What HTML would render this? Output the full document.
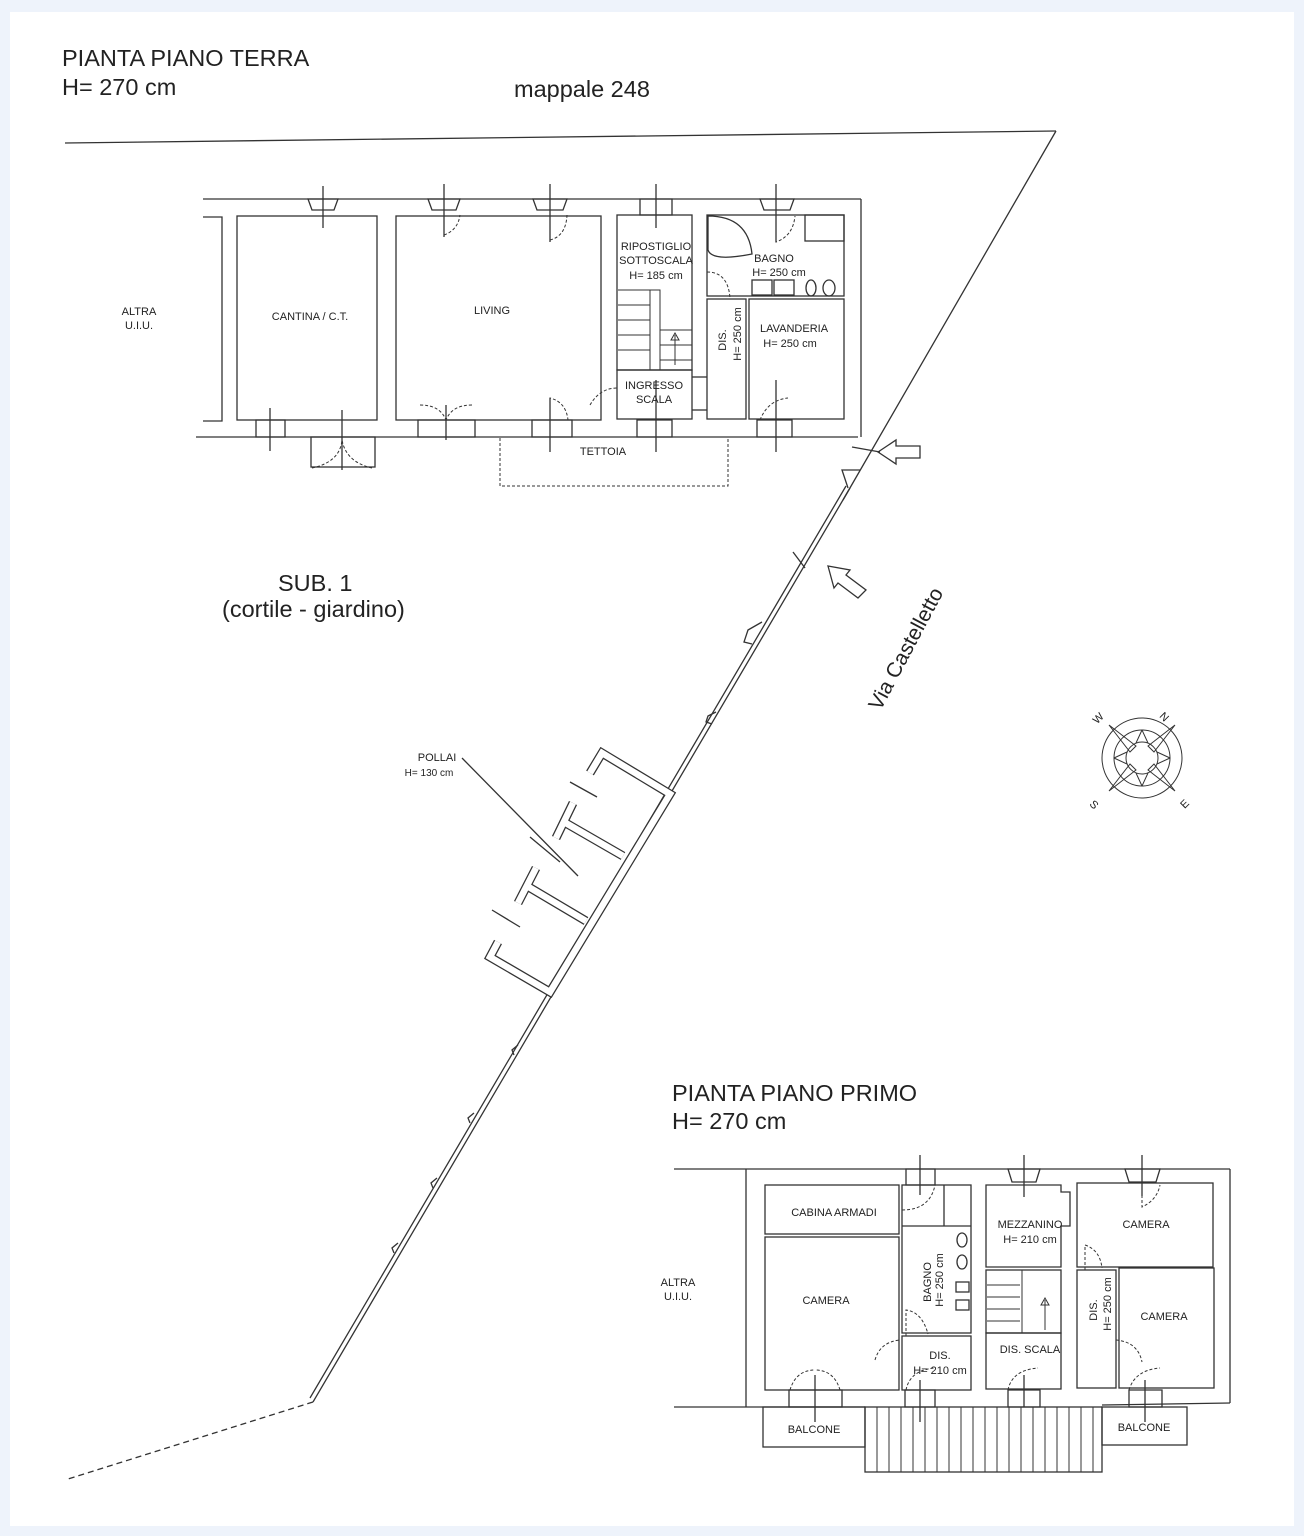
<!DOCTYPE html>
<html><head><meta charset="utf-8"><style>
html,body{margin:0;padding:0;background:#eef3fb}
svg{display:block}
text{font-family:"Liberation Sans",sans-serif;fill:#222}
</style></head><body>
<svg width="1304" height="1536" viewBox="0 0 1304 1536" xmlns="http://www.w3.org/2000/svg">
<rect x="10" y="12" width="1284" height="1514" fill="#fff"/>
<g stroke="#333" stroke-width="1.3" fill="none">
<!-- site boundary -->
<line x1="65" y1="143" x2="1056" y2="131"/>
<line x1="1056" y1="131" x2="843" y2="500"/>
<line x1="850" y1="488" x2="313" y2="1402"/>
<line x1="846" y1="486" x2="310" y2="1398"/>
<line x1="313" y1="1402" x2="65" y2="1480" stroke-dasharray="6,4"/>
<!-- bumps along wall -->
<path d="M762 622 L748 630 L744 642 L752 644"/>
<path d="M716 712 L708 716 L706 722 L712 724"/>
<path d="M518 1045 L512 1050 L514 1055"/>
<path d="M474 1113 L468 1118 L470 1123"/>
<path d="M437 1178 L431 1183 L433 1188"/>
<path d="M398 1243 L392 1248 L394 1253"/>
<path d="M860 470 L842 470 L848 488"/>
<!-- pollai -->
<g stroke-width="9" stroke="#333"><polyline points="590,773 602,753 670,794 550,992 490,957 498,942"/><line x1="573" y1="803" x2="556" y2="838"/><line x1="564" y1="822" x2="623" y2="856"/><line x1="536" y1="868" x2="518" y2="903"/><line x1="527" y1="886" x2="586" y2="921"/></g>
<g stroke-width="6.5" stroke="#fff"><polyline points="590,773 602,753 670,794 550,992 490,957 498,942"/><line x1="573" y1="803" x2="556" y2="838"/><line x1="564" y1="822" x2="623" y2="856"/><line x1="536" y1="868" x2="518" y2="903"/><line x1="527" y1="886" x2="586" y2="921"/></g>
<line x1="570" y1="782" x2="597" y2="797"/>
<line x1="530" y1="837" x2="560" y2="862"/>
<line x1="492" y1="910" x2="520" y2="927"/>
<line x1="462" y1="758" x2="578" y2="876"/>
<!-- arrows -->
<path d="M878 452 L896 440 L896 446 L920 446 L920 458 L896 458 L896 464 Z"/>
<path d="M828 566 L850 570 L846 575 L866 590 L858 598 L838 583 L834 588 Z"/>
<line x1="852" y1="447" x2="880" y2="452"/>
<line x1="793" y1="552" x2="805" y2="568"/>
<!-- GROUND FLOOR -->
<line x1="203" y1="199" x2="861" y2="199"/>
<line x1="861" y1="199" x2="861" y2="437"/>
<line x1="196" y1="437" x2="858" y2="437"/>
<polyline points="203,217 222,217 222,421 203,421"/>
<rect x="237" y="216" width="140" height="204"/>
<rect x="396" y="216" width="205" height="204"/>
<rect x="617" y="215" width="75" height="155"/>
<rect x="617" y="370" width="75" height="49"/>
<rect x="707" y="215" width="137" height="81"/>
<rect x="707" y="299" width="39" height="120"/>
<rect x="749" y="299" width="95" height="120"/>
<line x1="692" y1="377" x2="707" y2="377"/><line x1="692" y1="410" x2="707" y2="410"/>
<rect x="805" y="215" width="39" height="26"/>
<!-- stairs -->
<g stroke-width="1"><path d="M618 290 H650 M618 305 H650 M618 320 H650 M618 335 H650 M618 350 H650 M660 330 H692 M660 345 H692 M660 360 H692"/><rect x="650" y="290" width="10" height="80"/><line x1="675" y1="365" x2="675" y2="335"/><path d="M671 340 L675 333 L679 340 Z"/></g>
<!-- fixtures -->
<path d="M708 216 Q748 216 752 254 Q712 262 708 250 Z"/>
<rect x="752" y="280" width="20" height="15"/><rect x="774" y="280" width="20" height="15"/>
<ellipse cx="811" cy="288" rx="5" ry="8"/><ellipse cx="829" cy="288" rx="6" ry="8"/>
<!-- windows top -->
<g>
<path d="M308 199 H338 L334 210 H312 Z"/><line x1="323" y1="186" x2="323" y2="228"/>
<path d="M428 199 H460 L456 210 H432 Z"/><line x1="444" y1="184" x2="444" y2="237"/>
<path d="M533 199 H567 L563 210 H537 Z"/><line x1="550" y1="184" x2="550" y2="242"/>
<path d="M640 199 H672 V215 H640 Z"/><line x1="656" y1="184" x2="656" y2="228"/>
<path d="M760 199 H794 L790 210 H764 Z"/><line x1="776" y1="184" x2="776" y2="242"/>
</g>
<!-- windows bottom -->
<g>
<path d="M256 420 H285 V437 H256 Z"/><line x1="270" y1="408" x2="270" y2="451"/>
<path d="M418 420 H475 V437 H418 Z"/><line x1="446" y1="405" x2="446" y2="440"/>
<path d="M532 420 H572 V437 H532 Z"/><line x1="550" y1="398" x2="550" y2="452"/>
<path d="M637 420 H672 V437 H637 Z"/><line x1="656" y1="380" x2="656" y2="452"/>
<path d="M757 420 H792 V437 H757 Z"/><line x1="776" y1="380" x2="776" y2="452"/>
<rect x="311" y="437" width="64" height="30"/><line x1="342" y1="410" x2="342" y2="470"/>
</g>
<g stroke-dasharray="3,2" stroke-width="1">
<path d="M420 405 Q440 405 446 420"/><path d="M472 405 Q452 405 446 420"/>
<path d="M550 215 V240 Q566 236 567 215"/><path d="M444 215 V235 Q458 230 460 215"/>
<path d="M550 420 V398 Q566 402 568 420"/>
<path d="M776 215 V242 Q793 236 795 216"/>
<path d="M707 272 Q728 272 730 298"/>
<path d="M590 405 Q600 388 617 388"/>
<path d="M760 420 Q768 400 788 398"/>
<path d="M312 468 Q340 462 342 440"/><path d="M372 468 Q346 462 342 440"/>
<rect x="500" y="437" width="228" height="49"/>
</g>
<!-- FIRST FLOOR -->
<line x1="674" y1="1169" x2="1230" y2="1169"/>
<line x1="1230" y1="1169" x2="1230" y2="1403"/>
<line x1="674" y1="1407" x2="865" y2="1407"/>
<line x1="1102" y1="1405" x2="1230" y2="1403"/>
<line x1="746" y1="1169" x2="746" y2="1407"/>
<rect x="765" y="1185" width="134" height="49"/>
<rect x="765" y="1237" width="134" height="153"/>
<rect x="902" y="1185" width="69" height="148"/>
<line x1="944" y1="1185" x2="944" y2="1226"/><line x1="902" y1="1226" x2="971" y2="1226"/>
<rect x="902" y="1336" width="69" height="54"/>
<path d="M986 1185 H1061 V1192 H1070 V1226 H1061 V1267 H986 Z"/>
<rect x="986" y="1270" width="75" height="63"/>
<rect x="986" y="1333" width="75" height="56"/>
<rect x="1077" y="1183" width="136" height="84"/>
<rect x="1077" y="1270" width="39" height="118"/>
<rect x="1119" y="1268" width="95" height="120"/>
<g stroke-width="1"><path d="M987 1285 H1020 M987 1297 H1020 M987 1309 H1020 M987 1321 H1020"/><line x1="1022" y1="1270" x2="1022" y2="1333"/><line x1="1045" y1="1330" x2="1045" y2="1300"/><path d="M1041 1305 L1045 1298 L1049 1305 Z"/></g>
<rect x="956" y="1282" width="13" height="10"/><rect x="956" y="1300" width="13" height="10"/>
<ellipse cx="962" cy="1240" rx="5" ry="7"/><ellipse cx="962" cy="1262" rx="5" ry="7"/>
<!-- windows ff -->
<path d="M906 1169 H935 V1185 H906 Z"/><line x1="920" y1="1155" x2="920" y2="1195"/>
<path d="M1008 1169 H1040 L1036 1182 H1012 Z"/><line x1="1024" y1="1155" x2="1024" y2="1197"/>
<path d="M1125 1169 H1160 L1156 1182 H1129 Z"/><line x1="1142" y1="1155" x2="1142" y2="1196"/>
<path d="M789 1390 H842 V1407 H789 Z"/><line x1="815" y1="1375" x2="815" y2="1422"/>
<path d="M905 1390 H935 V1407 H905 Z"/><line x1="920" y1="1380" x2="920" y2="1422"/>
<path d="M1008 1390 H1040 V1407 H1008 Z"/><line x1="1024" y1="1375" x2="1024" y2="1407"/>
<path d="M1129 1390 H1162 V1407 H1129 Z"/><line x1="1145" y1="1380" x2="1145" y2="1422"/>
<g stroke-dasharray="3,2" stroke-width="1">
<path d="M902 1210 Q930 1210 935 1185"/><path d="M1142 1185 V1207 Q1157 1200 1160 1185"/>
<path d="M1085 1270 V1245 Q1100 1250 1102 1268"/><path d="M906 1336 V1310 Q922 1312 928 1334"/>
<path d="M875 1360 Q880 1342 900 1340"/><path d="M1116 1340 Q1138 1342 1142 1362"/>
<path d="M790 1390 Q796 1370 815 1370"/><path d="M840 1390 Q834 1370 815 1370"/>
<path d="M906 1390 Q910 1370 935 1368"/><path d="M1008 1390 Q1012 1370 1038 1368"/><path d="M1129 1390 Q1135 1370 1160 1368"/>
</g>
<!-- balconies -->
<rect x="763" y="1407" width="102" height="40"/>
<rect x="1102" y="1407" width="85" height="38"/>
<rect x="865" y="1407" width="237" height="65"/>
<g stroke-width="1"><path d="M877 1407 V1472 M889 1407 V1472 M901 1407 V1472 M913 1407 V1472 M925 1407 V1472 M937 1407 V1472 M949 1407 V1472 M961 1407 V1472 M973 1407 V1472 M985 1407 V1472 M997 1407 V1472 M1009 1407 V1472 M1021 1407 V1472 M1033 1407 V1472 M1045 1407 V1472 M1057 1407 V1472 M1069 1407 V1472 M1081 1407 V1472 M1093 1407 V1472"/></g>
<!-- compass -->
<g transform="translate(1142,758)" stroke-width="1">
<circle r="40"/><circle r="28"/><circle r="16"/>
<path d="M-33 -33 L-6 -12 L-12 -6 Z M33 -33 L12 -6 L6 -12 Z M33 33 L6 12 L12 6 Z M-33 33 L-12 6 L-6 12 Z"/>
<path d="M0 -28 L-6 -15 M0 -28 L6 -15 M0 28 L-6 15 M0 28 L6 15 M-28 0 L-15 -6 M-28 0 L-15 6 M28 0 L15 -6 M28 0 L15 6"/>
</g>
</g>
<g font-size="10" fill="#222">
<text x="1092" y="720" transform="rotate(-45 1100 716)" font-size="11">W</text>
<text x="1160" y="722" transform="rotate(45 1166 718)" font-size="11">N</text>
<text x="1090" y="810" transform="rotate(45 1096 806)" font-size="11">S</text>
<text x="1180" y="806" transform="rotate(-45 1186 802)" font-size="11">E</text>
</g>
<!-- texts -->
<text x="62" y="66" font-size="23.5">PIANTA PIANO TERRA</text>
<text x="62" y="95" font-size="23.5">H= 270 cm</text>
<text x="514" y="97" font-size="23.5">mappale 248</text>
<text x="278" y="591" font-size="23.5">SUB. 1</text>
<text x="222" y="617" font-size="23.5">(cortile - giardino)</text>
<text x="912" y="652" font-size="21" text-anchor="middle" transform="rotate(-62 912 652)">Via Castelletto</text>
<text x="672" y="1101" font-size="23.5">PIANTA PIANO PRIMO</text>
<text x="672" y="1129" font-size="23.5">H= 270 cm</text>
<g font-size="11" text-anchor="middle">
<text x="139" y="315">ALTRA</text><text x="139" y="329">U.I.U.</text>
<text x="310" y="320">CANTINA / C.T.</text>
<text x="492" y="314">LIVING</text>
<text x="656" y="250">RIPOSTIGLIO</text><text x="656" y="264">SOTTOSCALA</text><text x="656" y="279">H= 185 cm</text>
<text x="774" y="262">BAGNO</text><text x="779" y="276">H= 250 cm</text>
<text x="794" y="332">LAVANDERIA</text><text x="790" y="347">H= 250 cm</text>
<text x="654" y="389">INGRESSO</text><text x="654" y="403">SCALA</text>
<text x="603" y="455">TETTOIA</text>
<text x="437" y="761">POLLAI</text><text x="429" y="776" font-size="10">H= 130 cm</text>
<text x="678" y="1286">ALTRA</text><text x="678" y="1300">U.I.U.</text>
<text x="834" y="1216">CABINA ARMADI</text>
<text x="826" y="1304">CAMERA</text>
<text x="1030" y="1228">MEZZANINO</text><text x="1030" y="1243">H= 210 cm</text>
<text x="1146" y="1228">CAMERA</text>
<text x="1164" y="1320">CAMERA</text>
<text x="940" y="1359">DIS.</text><text x="940" y="1374">H= 210 cm</text>
<text x="1030" y="1353">DIS. SCALA</text>
<text x="814" y="1433">BALCONE</text>
<text x="1144" y="1431">BALCONE</text>
<text transform="translate(726,340) rotate(-90)">DIS.</text>
<text transform="translate(741,334) rotate(-90)">H= 250 cm</text>
<text transform="translate(931,1282) rotate(-90)">BAGNO</text>
<text transform="translate(943,1280) rotate(-90)">H= 250 cm</text>
<text transform="translate(1097,1310) rotate(-90)">DIS.</text>
<text transform="translate(1111,1304) rotate(-90)">H= 250 cm</text>
</g>
</svg>
</body></html>
